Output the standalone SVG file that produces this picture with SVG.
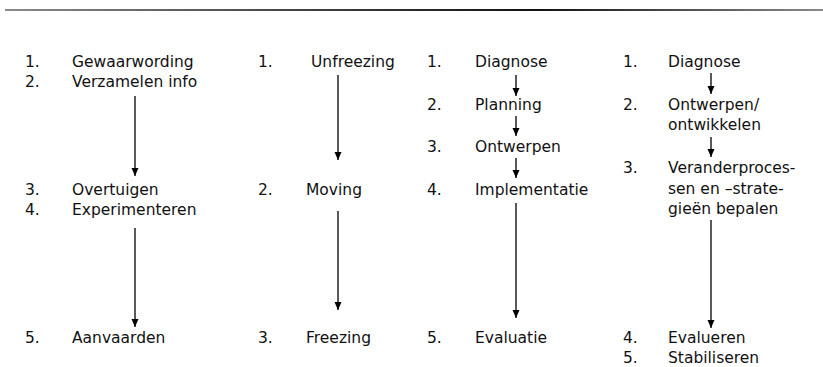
<svg xmlns="http://www.w3.org/2000/svg" width="823" height="367" viewBox="0 0 823 367">
  <defs>
    <linearGradient id="rule" gradientUnits="userSpaceOnUse" x1="5" y1="0" x2="823" y2="0">
      <stop offset="0" stop-color="#8a8a8a"/>
      <stop offset="0.35" stop-color="#444"/>
      <stop offset="0.65" stop-color="#111"/>
      <stop offset="1" stop-color="#8a8a8a"/>
    </linearGradient>
    <marker id="head" viewBox="0 0 8 8" refX="8" refY="4" markerWidth="8" markerHeight="8" markerUnits="userSpaceOnUse" orient="auto">
      <path d="M0,0.5 L8,4 L0,7.5 Z" fill="#000"/>
    </marker>
  </defs>
  <style>
    text { font-family: "DejaVu Sans", Verdana, sans-serif; font-size: 15.5px; fill: #111; }
    .conn line { stroke: #000; stroke-width: 1.3; marker-end: url(#head); }
  </style>
  <rect width="823" height="367" fill="#fff"/>
  <!-- header rule -->
  <rect x="5" y="9" width="818" height="2" fill="url(#rule)"/>

  <!-- column 1 -->
  <g id="c1-s1"><text x="25" y="67">1.</text><text x="72" y="67">Gewaarwording</text></g>
  <g id="c1-s2"><text x="25" y="87">2.</text><text x="72" y="87">Verzamelen info</text></g>
  <g id="c1-s3"><text x="25" y="195">3.</text><text x="72" y="195">Overtuigen</text></g>
  <g id="c1-s4"><text x="25" y="215">4.</text><text x="72" y="215">Experimenteren</text></g>
  <g id="c1-s5"><text x="25" y="343">5.</text><text x="72" y="343">Aanvaarden</text></g>

  <!-- column 2 -->
  <g id="c2-s1"><text x="258" y="67">1.</text><text x="311" y="67">Unfreezing</text></g>
  <g id="c2-s2"><text x="258" y="195">2.</text><text x="306" y="195">Moving</text></g>
  <g id="c2-s3"><text x="258" y="343">3.</text><text x="306" y="343">Freezing</text></g>

  <!-- column 3 -->
  <g id="c3-s1"><text x="427" y="67">1.</text><text x="475" y="67">Diagnose</text></g>
  <g id="c3-s2"><text x="427" y="110">2.</text><text x="475" y="110">Planning</text></g>
  <g id="c3-s3"><text x="427" y="152">3.</text><text x="475" y="152">Ontwerpen</text></g>
  <g id="c3-s4"><text x="427" y="195">4.</text><text x="475" y="195">Implementatie</text></g>
  <g id="c3-s5"><text x="427" y="343">5.</text><text x="475" y="343">Evaluatie</text></g>

  <!-- column 4 -->
  <g id="c4-s1"><text x="623" y="67">1.</text><text x="668" y="67">Diagnose</text></g>
  <g id="c4-s2"><text x="623" y="110">2.</text><text x="668" y="110">Ontwerpen/</text><text x="668" y="130">ontwikkelen</text></g>
  <g id="c4-s3"><text x="623" y="173">3.</text><text x="668" y="173">Veranderproces-</text><text x="668" y="194">sen en –strate-</text><text x="668" y="214">gieën bepalen</text></g>
  <g id="c4-s4"><text x="623" y="343">4.</text><text x="668" y="343">Evalueren</text></g>
  <g id="c4-s5"><text x="623" y="363">5.</text><text x="668" y="363">Stabiliseren</text></g>

  <g class="conn" id="connectors">
    <line x1="135" y1="96" x2="135" y2="176"/>
    <line x1="135" y1="228" x2="135" y2="327"/>
    <line x1="338" y1="75" x2="338" y2="160"/>
    <line x1="338" y1="211" x2="338" y2="310"/>
    <line x1="516" y1="75" x2="516" y2="96"/>
    <line x1="516" y1="116" x2="516" y2="136"/>
    <line x1="516" y1="158" x2="516" y2="178"/>
    <line x1="516" y1="203" x2="516" y2="318"/>
    <line x1="711" y1="73" x2="711" y2="94"/>
    <line x1="711" y1="137" x2="711" y2="157"/>
    <line x1="711" y1="220" x2="711" y2="328"/>
  </g>
</svg>
